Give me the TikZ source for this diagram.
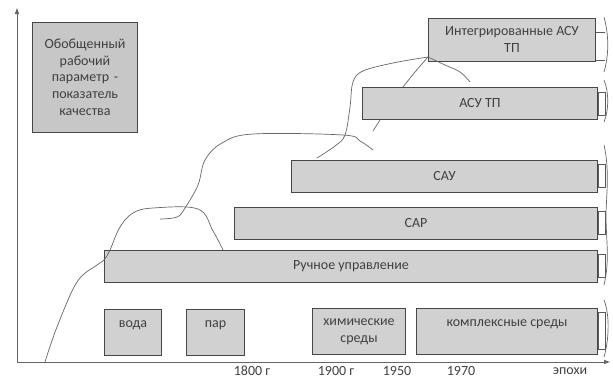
\documentclass[tikz,border=0pt]{standalone}
\usepackage{fontspec}
\setmainfont{Carlito}
\usetikzlibrary{
    positioning,
    calc,
    arrows.meta,
}

\begin{document}
\begin{tikzpicture}[
    x=1pt, y=-1pt,
    font=\fontsize{14}{16.7}\selectfont,
    box/.style={draw=black!72, line width=1pt, fill=black!18, text=black!75, inner sep=0pt, anchor=west},
    bar/.style={box, minimum height=32pt},
    envbox/.style={box, minimum height=46pt},
    tab/.style={draw=black!65, fill=white, line width=0.8pt},
    sketch/.style={draw=black!60, line width=0.7pt},
    axis/.style={draw=black!60, line width=1pt, -{Triangle[length=6pt,width=4pt]}},
    epoch/.style={text=black!75},
    ]
\useasboundingbox (0,0) rectangle (613,378);

% axes
\coordinate (origin) at (17,362);
\coordinate (ytop) at (17,8);
\coordinate (xend) at (610,362);
\draw[axis] (origin) -- (ytop);
\draw[axis] (origin) -- (xend);

\node[box, minimum width=105pt, minimum height=110pt, fill=black!22, text width=100pt, align=center] at (32,77) (param)
    {Обобщенный\\рабочий\\параметр -\\показатель\\качества};

% control levels
\node[bar, minimum width=167pt, minimum height=43pt, align=center] at (428,39.5) (asuint)
    {Интегрированные АСУ\\ТП};
\node[bar, minimum width=235pt] at (362,103.5) (asutp) {АСУ ТП};
\node[bar, minimum width=306pt] at (291,176) (sau) {САУ};
\node[bar, minimum width=363pt] at (234,223) (sar) {САР};
\node[bar, minimum width=493pt] at (104,266) (manual) {Ручное управление};

% media
\node[envbox, minimum width=57pt, text depth=16pt] at (104,332) (water) {вода};
\node[envbox, minimum width=58pt, text depth=16pt] at (186,332) (steam) {пар};
\node[envbox, minimum width=93pt, align=center] at (312,331.5) (chem) {химические\\среды};
\node[envbox, minimum width=181pt, text depth=16pt] at (416,331) (complex) {комплексные среды};

% epochs
\node[epoch] at (252,371) (y1800) {1800 г};
\node[epoch] at (336,371) (y1900) {1900 г};
\node[epoch] at (397,371) (y1950) {1950};
\node[epoch] at (461,371) (y1970) {1970};
\node[epoch] at (570,371) (epochs) {эпохи};

% right ends
\foreach \b in {asutp, sau, sar, manual, complex} {
    \draw[tab] ($(\b.north east)+(0,5)$) rectangle ($(\b.south east)+(7,-5)$);
}
\draw[tab] ($(asuint.north east)+(0,15)$) -- ++(9,0);
\draw[tab] ($(asuint.south east)+(0,-1)$) -- ++(9,0);
\draw[sketch] (604,17) .. controls (609,35) and (609,55) .. (604,72);
\draw[sketch] (604,80) .. controls (609,92) and (609,110) .. (604,122);
\draw[sketch] (604,145) .. controls (610,170) and (606,200) .. (606,215)
    .. controls (606,240) and (610,260) .. (604,285);
\draw[sketch] (604,300) .. controls (610,315) and (609,340) .. (604,357);

% hand-drawn growth line
\draw[sketch] plot[smooth, tension=0.6] coordinates {(45,362) (57,327) (77,282) (97,265) (104,260) (110,250) (120,227) (133,213) (153,208) (198,209) (213,231) (223,250)};
\draw[sketch] plot[smooth, tension=0.6] coordinates {(160,219) (177,217) (185,208) (198,185) (205,160) (222,143) (253,134) (343,135) (360,141) (373,150)};
\draw[sketch] plot[smooth, tension=0.6] coordinates {(317,158) (335,146) (345,135) (350,107) (353,82) (363,71) (393,63) (428,57)};
\draw[sketch] plot[smooth, tension=0.6] coordinates {(428,57) (415,72) (403,87)};
\draw[sketch] plot[smooth, tension=0.6] coordinates {(428,57) (445,65) (460,72) (470,82)};
\draw[sketch] (380,120) -- (373,131);

\end{tikzpicture}
\end{document}
